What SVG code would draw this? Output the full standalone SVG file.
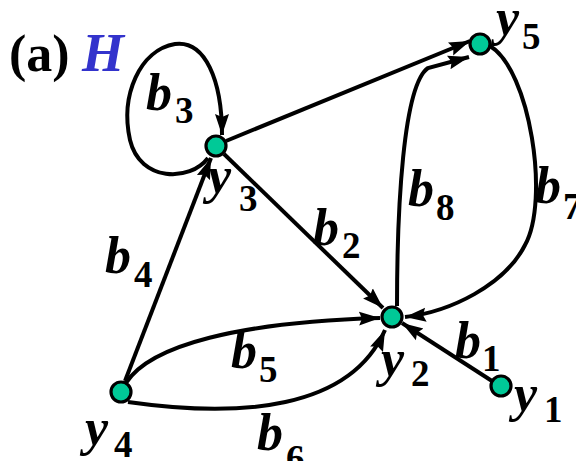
<svg xmlns="http://www.w3.org/2000/svg" width="576" height="461" viewBox="0 0 576 461">
<style>
.e{fill:none;stroke:#000;stroke-width:4;marker-end:url(#ah)}
.n{fill:#00C997;stroke:#000;stroke-width:3.2}
.t{font-family:"Liberation Serif","Times New Roman",serif;font-weight:bold;font-style:italic;font-size:52px;fill:#000}
.s{font-style:normal;font-size:37px}
.ti{font-family:"Liberation Serif","Times New Roman",serif;font-weight:bold;font-size:52px;fill:#000}
</style>
<defs>
<marker id="ah" markerUnits="userSpaceOnUse" markerWidth="22" markerHeight="16" refX="21" refY="8" orient="auto">
<path d="M0,1 L21,8 L0,15 L3,8 z" fill="#000"/>
</marker>
</defs>
<rect width="576" height="461" fill="#fff"/>
<g id="title">
<text class="ti" x="9" y="71">(a)</text>
<text class="t" x="82" y="71" style="fill:#3333CC;font-size:54px">H</text>
</g>
<g id="edges">
<path class="e" d="M208,158 C190,182 140,182 130,140 C120,95 140,50 175,44 C205,40 222,80 222,135"/>
<path class="e" d="M226,141 L470,41"/>
<path class="e" d="M224,154 L383,308"/>
<path class="e" d="M125,381 L211,158"/>
<path class="e" d="M492,381 L402,323"/>
<path class="e" d="M126,383 C150,345 240,322 380,318"/>
<path class="e" d="M128,402 C240,418 350,410 385,330"/>
<path class="e" d="M397,306 C397,210 403,85 428,68 L469,57"/>
<path class="e" d="M490,46 C530,70 550,200 525,245 C505,285 450,312 405,317"/>
<text class="t" x="146" y="110">b<tspan class="s" x="175" y="123">3</tspan></text>
<text class="t" x="313" y="245">b<tspan class="s" x="342" y="258">2</tspan></text>
<text class="t" x="105" y="273">b<tspan class="s" x="134" y="287">4</tspan></text>
<text class="t" x="231" y="368">b<tspan class="s" x="259" y="382">5</tspan></text>
<text class="t" x="257" y="450">b<tspan class="s" x="286" y="471">6</tspan></text>
<text class="t" x="408" y="206">b<tspan class="s" x="436" y="220">8</tspan></text>
<text class="t" x="535" y="203">b<tspan class="s" x="563" y="219">7</tspan></text>
<text class="t" x="455" y="358">b<tspan class="s" x="482" y="371">1</tspan></text>
</g>
<g id="y1"><circle class="n" cx="501" cy="386" r="10"/><text class="t" x="514" y="411">y<tspan class="s" x="544" y="422">1</tspan></text></g>
<g id="y2"><circle class="n" cx="392" cy="317" r="10"/><text class="t" x="381" y="376">y<tspan class="s" x="411" y="386">2</tspan></text></g>
<g id="y3"><circle class="n" cx="216" cy="146" r="10"/><text class="t" x="208" y="193">y<tspan class="s" x="239" y="211">3</tspan></text></g>
<g id="y4"><circle class="n" cx="121" cy="392" r="10"/><text class="t" x="85" y="445">y<tspan class="s" x="114" y="457">4</tspan></text></g>
<g id="y5"><circle class="n" cx="480" cy="44" r="10"/><text class="t" x="496" y="35">y<tspan class="s" x="522" y="49">5</tspan></text></g>
</svg>
